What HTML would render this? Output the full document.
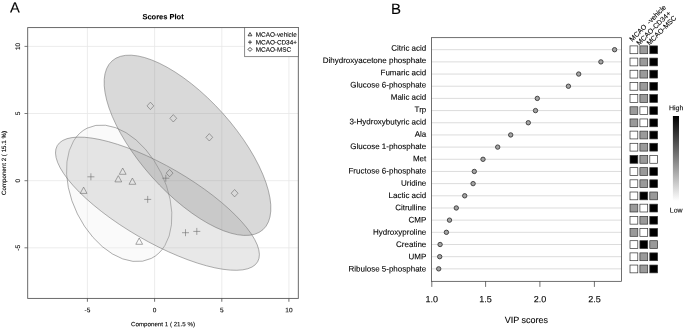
<!DOCTYPE html>
<html><head><meta charset="utf-8"><title>Figure</title>
<style>html,body{margin:0;padding:0;background:#fff;}svg{display:block;filter:grayscale(1);}text{text-rendering:geometricPrecision;stroke:#000;stroke-width:0.1px;font-family:"Liberation Sans",sans-serif;fill:#000;}</style></head><body>
<svg width="685" height="330" viewBox="0 0 685 330">
<rect x="0" y="0" width="685" height="330" fill="#fff"/>
<g id="panelA">
<text transform="translate(10.00 12.40) rotate(0.03)" font-size="14.7" text-anchor="start">A</text>
<text transform="translate(163.00 19.20) rotate(0.03)" font-size="7.5" text-anchor="middle" font-weight="bold">Scores Plot</text>
<clipPath id="cpA"><rect x="27.7" y="27.6" width="270.6" height="270.8"/></clipPath>
<line x1="87.4" y1="27.6" x2="87.4" y2="298.45" stroke="#e7e7e7" stroke-width="0.8"/>
<line x1="154.6" y1="27.6" x2="154.6" y2="298.45" stroke="#e7e7e7" stroke-width="0.8"/>
<line x1="221.8" y1="27.6" x2="221.8" y2="298.45" stroke="#e7e7e7" stroke-width="0.8"/>
<line x1="288.9" y1="27.6" x2="288.9" y2="298.45" stroke="#e7e7e7" stroke-width="0.8"/>
<line x1="27.7" y1="247.8" x2="298.3" y2="247.8" stroke="#e7e7e7" stroke-width="0.8"/>
<line x1="27.7" y1="180.7" x2="298.3" y2="180.7" stroke="#e7e7e7" stroke-width="0.8"/>
<line x1="27.7" y1="113.5" x2="298.3" y2="113.5" stroke="#e7e7e7" stroke-width="0.8"/>
<line x1="27.7" y1="46.4" x2="298.3" y2="46.4" stroke="#e7e7e7" stroke-width="0.8"/>
<g clip-path="url(#cpA)">
<ellipse cx="119.2" cy="193.3" rx="72.6" ry="46.6" transform="rotate(63.75 119.2 193.3)" fill="#eeeeee" fill-opacity="0.3" stroke="#6e6e6e" stroke-width="0.5"/>
<ellipse cx="157.45" cy="203.7" rx="115.8" ry="37.7" transform="rotate(30.1 157.45 203.7)" fill="#b2b2b2" fill-opacity="0.3" stroke="#6e6e6e" stroke-width="0.5"/>
<ellipse cx="187.5" cy="145.3" rx="113.2" ry="47.6" transform="rotate(48.2 187.5 145.3)" fill="#808080" fill-opacity="0.3" stroke="#6e6e6e" stroke-width="0.5"/>
</g>
<path d="M122.7 168.0 L126.1 174.3 L119.3 174.3 Z" stroke="#6c6c6c" stroke-width="0.6" fill="none"/>
<path d="M118.3 175.6 L121.7 181.9 L114.9 181.9 Z" stroke="#6c6c6c" stroke-width="0.6" fill="none"/>
<path d="M132.4 178.0 L135.8 184.3 L129.0 184.3 Z" stroke="#6c6c6c" stroke-width="0.6" fill="none"/>
<path d="M83.6 187.1 L87.0 193.4 L80.2 193.4 Z" stroke="#6c6c6c" stroke-width="0.6" fill="none"/>
<path d="M139.2 238.0 L142.6 244.3 L135.8 244.3 Z" stroke="#6c6c6c" stroke-width="0.6" fill="none"/>
<path d="M87.4 176.8 H94.4 M90.9 173.3 V180.3" stroke="#6c6c6c" stroke-width="0.6" fill="none"/>
<path d="M144.2 199.4 H151.2 M147.7 195.9 V202.9" stroke="#6c6c6c" stroke-width="0.6" fill="none"/>
<path d="M162.3 178.2 H169.3 M165.8 174.7 V181.7" stroke="#6c6c6c" stroke-width="0.6" fill="none"/>
<path d="M182.0 232.7 H189.0 M185.5 229.2 V236.2" stroke="#6c6c6c" stroke-width="0.6" fill="none"/>
<path d="M193.3 231.4 H200.3 M196.8 227.9 V234.9" stroke="#6c6c6c" stroke-width="0.6" fill="none"/>
<path d="M150.4 102.2 L153.8 105.9 L150.4 109.6 L147.0 105.9 Z" stroke="#6c6c6c" stroke-width="0.6" fill="none"/>
<path d="M173.3 114.6 L176.7 118.3 L173.3 122.0 L169.9 118.3 Z" stroke="#6c6c6c" stroke-width="0.6" fill="none"/>
<path d="M209.3 133.6 L212.7 137.3 L209.3 141.0 L205.9 137.3 Z" stroke="#6c6c6c" stroke-width="0.6" fill="none"/>
<path d="M234.6 189.5 L238.0 193.2 L234.6 196.9 L231.2 193.2 Z" stroke="#6c6c6c" stroke-width="0.6" fill="none"/>
<path d="M169.6 169.4 L173.0 173.1 L169.6 176.8 L166.2 173.1 Z" stroke="#6c6c6c" stroke-width="0.6" fill="none"/>
<rect x="27.7" y="27.6" width="270.6" height="270.8" fill="none" stroke="#5a5a5a" stroke-width="0.9"/>
<line x1="87.4" y1="298.45" x2="87.4" y2="301.75" stroke="#4a4a4a" stroke-width="0.8"/>
<text transform="translate(87.45 312.30) rotate(0.03)" font-size="6.5" text-anchor="middle">-5</text>
<line x1="24.5" y1="247.8" x2="27.7" y2="247.8" stroke="#5a5a5a" stroke-width="0.8"/>
<text transform="translate(20.00 247.85) rotate(-90)" font-size="6.5" text-anchor="middle">-5</text>
<line x1="154.6" y1="298.45" x2="154.6" y2="301.75" stroke="#4a4a4a" stroke-width="0.8"/>
<text transform="translate(154.60 312.30) rotate(0.03)" font-size="6.5" text-anchor="middle">0</text>
<line x1="24.5" y1="180.7" x2="27.7" y2="180.7" stroke="#5a5a5a" stroke-width="0.8"/>
<text transform="translate(20.00 180.70) rotate(-90)" font-size="6.5" text-anchor="middle">0</text>
<line x1="221.8" y1="298.45" x2="221.8" y2="301.75" stroke="#4a4a4a" stroke-width="0.8"/>
<text transform="translate(221.75 312.30) rotate(0.03)" font-size="6.5" text-anchor="middle">5</text>
<line x1="24.5" y1="113.5" x2="27.7" y2="113.5" stroke="#5a5a5a" stroke-width="0.8"/>
<text transform="translate(20.00 113.55) rotate(-90)" font-size="6.5" text-anchor="middle">5</text>
<line x1="288.9" y1="298.45" x2="288.9" y2="301.75" stroke="#4a4a4a" stroke-width="0.8"/>
<text transform="translate(288.90 312.30) rotate(0.03)" font-size="6.5" text-anchor="middle">10</text>
<line x1="24.5" y1="46.4" x2="27.7" y2="46.4" stroke="#5a5a5a" stroke-width="0.8"/>
<text transform="translate(20.00 46.40) rotate(-90)" font-size="6.5" text-anchor="middle">10</text>
<text transform="translate(163.00 326.30) rotate(0.03)" font-size="6.2" text-anchor="middle">Component 1 ( 21.5 %)</text>
<text transform="translate(5.80 163.03) rotate(-90)" font-size="6.2" text-anchor="middle">Component 2 ( 15.1 %)</text>
<rect x="244.7" y="27.6" width="53.6" height="29.1" fill="#fff" stroke="#5a5a5a" stroke-width="0.7"/>
<path d="M250.0 32.5 L251.9 35.8 L248.1 35.8 Z" stroke="#1a1a1a" stroke-width="0.8" fill="none"/>
<path d="M248.0 42.2 H252.0 M250.0 40.2 V44.2" stroke="#1a1a1a" stroke-width="0.8" fill="none"/>
<path d="M250.0 47.4 L252.0 49.4 L250.0 51.4 L248.0 49.4 Z" stroke="#1a1a1a" stroke-width="0.8" fill="none"/>
<text transform="translate(255.80 36.80) rotate(0.03)" font-size="6.35" text-anchor="start">MCAO-vehicle</text>
<text transform="translate(255.80 44.50) rotate(0.03)" font-size="6.35" text-anchor="start">MCAO-CD34+</text>
<text transform="translate(255.80 51.70) rotate(0.03)" font-size="6.35" text-anchor="start">MCAO-MSC</text>
</g>
<g id="panelB">
<text transform="translate(391.00 14.10) rotate(0.03)" font-size="15" text-anchor="start">B</text>
<line x1="431.6" y1="49.70" x2="621.4" y2="49.70" stroke="#d8d8d8" stroke-width="0.9"/>
<circle cx="614.6" cy="49.70" r="2.2" fill="#a4a4a4" stroke="#303030" stroke-width="0.85"/>
<text transform="translate(426.30 50.80) rotate(0.03)" font-size="8" text-anchor="end">Citric acid</text>
<rect x="630.0" y="45.90" width="7.8" height="7.8" fill="#ffffff" stroke="#333" stroke-width="0.7"/>
<rect x="639.9" y="45.90" width="7.8" height="7.8" fill="#9a9a9a" stroke="#333" stroke-width="0.7"/>
<rect x="649.8" y="45.90" width="7.8" height="7.8" fill="#000000" stroke="#333" stroke-width="0.7"/>
<line x1="431.6" y1="61.88" x2="621.4" y2="61.88" stroke="#d8d8d8" stroke-width="0.9"/>
<circle cx="600.9" cy="61.88" r="2.2" fill="#a4a4a4" stroke="#303030" stroke-width="0.85"/>
<text transform="translate(426.30 63.07) rotate(0.03)" font-size="8" text-anchor="end">Dihydroxyacetone phosphate</text>
<rect x="630.0" y="58.08" width="7.8" height="7.8" fill="#ffffff" stroke="#333" stroke-width="0.7"/>
<rect x="639.9" y="58.08" width="7.8" height="7.8" fill="#9a9a9a" stroke="#333" stroke-width="0.7"/>
<rect x="649.8" y="58.08" width="7.8" height="7.8" fill="#000000" stroke="#333" stroke-width="0.7"/>
<line x1="431.6" y1="74.05" x2="621.4" y2="74.05" stroke="#d8d8d8" stroke-width="0.9"/>
<circle cx="578.7" cy="74.05" r="2.2" fill="#a4a4a4" stroke="#303030" stroke-width="0.85"/>
<text transform="translate(426.30 75.33) rotate(0.03)" font-size="8" text-anchor="end">Fumaric acid</text>
<rect x="630.0" y="70.25" width="7.8" height="7.8" fill="#ffffff" stroke="#333" stroke-width="0.7"/>
<rect x="639.9" y="70.25" width="7.8" height="7.8" fill="#9a9a9a" stroke="#333" stroke-width="0.7"/>
<rect x="649.8" y="70.25" width="7.8" height="7.8" fill="#000000" stroke="#333" stroke-width="0.7"/>
<line x1="431.6" y1="86.23" x2="621.4" y2="86.23" stroke="#d8d8d8" stroke-width="0.9"/>
<circle cx="568.4" cy="86.23" r="2.2" fill="#a4a4a4" stroke="#303030" stroke-width="0.85"/>
<text transform="translate(426.30 87.60) rotate(0.03)" font-size="8" text-anchor="end">Glucose 6-phosphate</text>
<rect x="630.0" y="82.43" width="7.8" height="7.8" fill="#ffffff" stroke="#333" stroke-width="0.7"/>
<rect x="639.9" y="82.43" width="7.8" height="7.8" fill="#9a9a9a" stroke="#333" stroke-width="0.7"/>
<rect x="649.8" y="82.43" width="7.8" height="7.8" fill="#000000" stroke="#333" stroke-width="0.7"/>
<line x1="431.6" y1="98.40" x2="621.4" y2="98.40" stroke="#d8d8d8" stroke-width="0.9"/>
<circle cx="537.3" cy="98.40" r="2.2" fill="#a4a4a4" stroke="#303030" stroke-width="0.85"/>
<text transform="translate(426.30 99.87) rotate(0.03)" font-size="8" text-anchor="end">Malic acid</text>
<rect x="630.0" y="94.60" width="7.8" height="7.8" fill="#ffffff" stroke="#333" stroke-width="0.7"/>
<rect x="639.9" y="94.60" width="7.8" height="7.8" fill="#9a9a9a" stroke="#333" stroke-width="0.7"/>
<rect x="649.8" y="94.60" width="7.8" height="7.8" fill="#000000" stroke="#333" stroke-width="0.7"/>
<line x1="431.6" y1="110.58" x2="621.4" y2="110.58" stroke="#d8d8d8" stroke-width="0.9"/>
<circle cx="535.5" cy="110.58" r="2.2" fill="#a4a4a4" stroke="#303030" stroke-width="0.85"/>
<text transform="translate(426.30 112.13) rotate(0.03)" font-size="8" text-anchor="end">Trp</text>
<rect x="630.0" y="106.78" width="7.8" height="7.8" fill="#9a9a9a" stroke="#333" stroke-width="0.7"/>
<rect x="639.9" y="106.78" width="7.8" height="7.8" fill="#ffffff" stroke="#333" stroke-width="0.7"/>
<rect x="649.8" y="106.78" width="7.8" height="7.8" fill="#000000" stroke="#333" stroke-width="0.7"/>
<line x1="431.6" y1="122.75" x2="621.4" y2="122.75" stroke="#d8d8d8" stroke-width="0.9"/>
<circle cx="528.3" cy="122.75" r="2.2" fill="#a4a4a4" stroke="#303030" stroke-width="0.85"/>
<text transform="translate(426.30 124.40) rotate(0.03)" font-size="8" text-anchor="end">3-Hydroxybutyric acid</text>
<rect x="630.0" y="118.95" width="7.8" height="7.8" fill="#9a9a9a" stroke="#333" stroke-width="0.7"/>
<rect x="639.9" y="118.95" width="7.8" height="7.8" fill="#ffffff" stroke="#333" stroke-width="0.7"/>
<rect x="649.8" y="118.95" width="7.8" height="7.8" fill="#000000" stroke="#333" stroke-width="0.7"/>
<line x1="431.6" y1="134.93" x2="621.4" y2="134.93" stroke="#d8d8d8" stroke-width="0.9"/>
<circle cx="510.7" cy="134.93" r="2.2" fill="#a4a4a4" stroke="#303030" stroke-width="0.85"/>
<text transform="translate(426.30 136.67) rotate(0.03)" font-size="8" text-anchor="end">Ala</text>
<rect x="630.0" y="131.12" width="7.8" height="7.8" fill="#ffffff" stroke="#333" stroke-width="0.7"/>
<rect x="639.9" y="131.12" width="7.8" height="7.8" fill="#9a9a9a" stroke="#333" stroke-width="0.7"/>
<rect x="649.8" y="131.12" width="7.8" height="7.8" fill="#000000" stroke="#333" stroke-width="0.7"/>
<line x1="431.6" y1="147.10" x2="621.4" y2="147.10" stroke="#d8d8d8" stroke-width="0.9"/>
<circle cx="497.7" cy="147.10" r="2.2" fill="#a4a4a4" stroke="#303030" stroke-width="0.85"/>
<text transform="translate(426.30 148.94) rotate(0.03)" font-size="8" text-anchor="end">Glucose 1-phosphate</text>
<rect x="630.0" y="143.30" width="7.8" height="7.8" fill="#ffffff" stroke="#333" stroke-width="0.7"/>
<rect x="639.9" y="143.30" width="7.8" height="7.8" fill="#9a9a9a" stroke="#333" stroke-width="0.7"/>
<rect x="649.8" y="143.30" width="7.8" height="7.8" fill="#000000" stroke="#333" stroke-width="0.7"/>
<line x1="431.6" y1="159.28" x2="621.4" y2="159.28" stroke="#d8d8d8" stroke-width="0.9"/>
<circle cx="483.0" cy="159.28" r="2.2" fill="#a4a4a4" stroke="#303030" stroke-width="0.85"/>
<text transform="translate(426.30 161.20) rotate(0.03)" font-size="8" text-anchor="end">Met</text>
<rect x="630.0" y="155.47" width="7.8" height="7.8" fill="#000000" stroke="#333" stroke-width="0.7"/>
<rect x="639.9" y="155.47" width="7.8" height="7.8" fill="#9a9a9a" stroke="#333" stroke-width="0.7"/>
<rect x="649.8" y="155.47" width="7.8" height="7.8" fill="#ffffff" stroke="#333" stroke-width="0.7"/>
<line x1="431.6" y1="171.45" x2="621.4" y2="171.45" stroke="#d8d8d8" stroke-width="0.9"/>
<circle cx="474.3" cy="171.45" r="2.2" fill="#a4a4a4" stroke="#303030" stroke-width="0.85"/>
<text transform="translate(426.30 173.47) rotate(0.03)" font-size="8" text-anchor="end">Fructose 6-phosphate</text>
<rect x="630.0" y="167.65" width="7.8" height="7.8" fill="#ffffff" stroke="#333" stroke-width="0.7"/>
<rect x="639.9" y="167.65" width="7.8" height="7.8" fill="#9a9a9a" stroke="#333" stroke-width="0.7"/>
<rect x="649.8" y="167.65" width="7.8" height="7.8" fill="#000000" stroke="#333" stroke-width="0.7"/>
<line x1="431.6" y1="183.62" x2="621.4" y2="183.62" stroke="#d8d8d8" stroke-width="0.9"/>
<circle cx="473.1" cy="183.62" r="2.2" fill="#a4a4a4" stroke="#303030" stroke-width="0.85"/>
<text transform="translate(426.30 185.74) rotate(0.03)" font-size="8" text-anchor="end">Uridine</text>
<rect x="630.0" y="179.82" width="7.8" height="7.8" fill="#ffffff" stroke="#333" stroke-width="0.7"/>
<rect x="639.9" y="179.82" width="7.8" height="7.8" fill="#9a9a9a" stroke="#333" stroke-width="0.7"/>
<rect x="649.8" y="179.82" width="7.8" height="7.8" fill="#000000" stroke="#333" stroke-width="0.7"/>
<line x1="431.6" y1="195.80" x2="621.4" y2="195.80" stroke="#d8d8d8" stroke-width="0.9"/>
<circle cx="464.7" cy="195.80" r="2.2" fill="#a4a4a4" stroke="#303030" stroke-width="0.85"/>
<text transform="translate(426.30 198.00) rotate(0.03)" font-size="8" text-anchor="end">Lactic acid</text>
<rect x="630.0" y="192.00" width="7.8" height="7.8" fill="#ffffff" stroke="#333" stroke-width="0.7"/>
<rect x="639.9" y="192.00" width="7.8" height="7.8" fill="#000000" stroke="#333" stroke-width="0.7"/>
<rect x="649.8" y="192.00" width="7.8" height="7.8" fill="#9a9a9a" stroke="#333" stroke-width="0.7"/>
<line x1="431.6" y1="207.98" x2="621.4" y2="207.98" stroke="#d8d8d8" stroke-width="0.9"/>
<circle cx="456.3" cy="207.98" r="2.2" fill="#a4a4a4" stroke="#303030" stroke-width="0.85"/>
<text transform="translate(426.30 210.27) rotate(0.03)" font-size="8" text-anchor="end">Citrulline</text>
<rect x="630.0" y="204.18" width="7.8" height="7.8" fill="#9a9a9a" stroke="#333" stroke-width="0.7"/>
<rect x="639.9" y="204.18" width="7.8" height="7.8" fill="#ffffff" stroke="#333" stroke-width="0.7"/>
<rect x="649.8" y="204.18" width="7.8" height="7.8" fill="#000000" stroke="#333" stroke-width="0.7"/>
<line x1="431.6" y1="220.15" x2="621.4" y2="220.15" stroke="#d8d8d8" stroke-width="0.9"/>
<circle cx="449.5" cy="220.15" r="2.2" fill="#a4a4a4" stroke="#303030" stroke-width="0.85"/>
<text transform="translate(426.30 222.54) rotate(0.03)" font-size="8" text-anchor="end">CMP</text>
<rect x="630.0" y="216.35" width="7.8" height="7.8" fill="#ffffff" stroke="#333" stroke-width="0.7"/>
<rect x="639.9" y="216.35" width="7.8" height="7.8" fill="#9a9a9a" stroke="#333" stroke-width="0.7"/>
<rect x="649.8" y="216.35" width="7.8" height="7.8" fill="#000000" stroke="#333" stroke-width="0.7"/>
<line x1="431.6" y1="232.32" x2="621.4" y2="232.32" stroke="#d8d8d8" stroke-width="0.9"/>
<circle cx="446.4" cy="232.32" r="2.2" fill="#a4a4a4" stroke="#303030" stroke-width="0.85"/>
<text transform="translate(426.30 234.81) rotate(0.03)" font-size="8" text-anchor="end">Hydroxyproline</text>
<rect x="630.0" y="228.52" width="7.8" height="7.8" fill="#9a9a9a" stroke="#333" stroke-width="0.7"/>
<rect x="639.9" y="228.52" width="7.8" height="7.8" fill="#ffffff" stroke="#333" stroke-width="0.7"/>
<rect x="649.8" y="228.52" width="7.8" height="7.8" fill="#000000" stroke="#333" stroke-width="0.7"/>
<line x1="431.6" y1="244.50" x2="621.4" y2="244.50" stroke="#d8d8d8" stroke-width="0.9"/>
<circle cx="440.1" cy="244.50" r="2.2" fill="#a4a4a4" stroke="#303030" stroke-width="0.85"/>
<text transform="translate(426.30 247.07) rotate(0.03)" font-size="8" text-anchor="end">Creatine</text>
<rect x="630.0" y="240.70" width="7.8" height="7.8" fill="#ffffff" stroke="#333" stroke-width="0.7"/>
<rect x="639.9" y="240.70" width="7.8" height="7.8" fill="#000000" stroke="#333" stroke-width="0.7"/>
<rect x="649.8" y="240.70" width="7.8" height="7.8" fill="#9a9a9a" stroke="#333" stroke-width="0.7"/>
<line x1="431.6" y1="256.68" x2="621.4" y2="256.68" stroke="#d8d8d8" stroke-width="0.9"/>
<circle cx="439.7" cy="256.68" r="2.2" fill="#a4a4a4" stroke="#303030" stroke-width="0.85"/>
<text transform="translate(426.30 259.34) rotate(0.03)" font-size="8" text-anchor="end">UMP</text>
<rect x="630.0" y="252.88" width="7.8" height="7.8" fill="#ffffff" stroke="#333" stroke-width="0.7"/>
<rect x="639.9" y="252.88" width="7.8" height="7.8" fill="#9a9a9a" stroke="#333" stroke-width="0.7"/>
<rect x="649.8" y="252.88" width="7.8" height="7.8" fill="#000000" stroke="#333" stroke-width="0.7"/>
<line x1="431.6" y1="268.85" x2="621.4" y2="268.85" stroke="#d8d8d8" stroke-width="0.9"/>
<circle cx="438.7" cy="268.85" r="2.2" fill="#a4a4a4" stroke="#303030" stroke-width="0.85"/>
<text transform="translate(426.30 271.61) rotate(0.03)" font-size="8" text-anchor="end">Ribulose 5-phosphate</text>
<rect x="630.0" y="265.05" width="7.8" height="7.8" fill="#ffffff" stroke="#333" stroke-width="0.7"/>
<rect x="639.9" y="265.05" width="7.8" height="7.8" fill="#9a9a9a" stroke="#333" stroke-width="0.7"/>
<rect x="649.8" y="265.05" width="7.8" height="7.8" fill="#000000" stroke="#333" stroke-width="0.7"/>
<rect x="431.6" y="37.7" width="189.8" height="243.6" fill="none" stroke="#333" stroke-width="0.7"/>
<line x1="431.8" y1="281.3" x2="431.8" y2="286.9" stroke="#333" stroke-width="0.7"/>
<text transform="translate(431.80 302.20) rotate(0.03)" font-size="9" text-anchor="middle">1.0</text>
<line x1="485.6" y1="281.3" x2="485.6" y2="286.9" stroke="#333" stroke-width="0.7"/>
<text transform="translate(485.60 302.20) rotate(0.03)" font-size="9" text-anchor="middle">1.5</text>
<line x1="539.9" y1="281.3" x2="539.9" y2="286.9" stroke="#333" stroke-width="0.7"/>
<text transform="translate(539.90 302.20) rotate(0.03)" font-size="9" text-anchor="middle">2.0</text>
<line x1="594.4" y1="281.3" x2="594.4" y2="286.9" stroke="#333" stroke-width="0.7"/>
<text transform="translate(594.40 302.20) rotate(0.03)" font-size="9" text-anchor="middle">2.5</text>
<text transform="translate(526.40 322.90) rotate(0.03)" font-size="9" text-anchor="middle">VIP scores</text>
<text transform="translate(632.30 41.90) rotate(-45)" font-size="7" text-anchor="start">MCAO <tspan dx="1.4">-vehicle</tspan></text>
<text transform="translate(639.30 45.80) rotate(-45)" font-size="7" text-anchor="start">MCAO-CD34+</text>
<text transform="translate(649.40 45.80) rotate(-45)" font-size="7" text-anchor="start">MCAO-MSC</text>
<defs><linearGradient id="cb" x1="0" y1="0" x2="0" y2="1"><stop offset="0" stop-color="#000"/><stop offset="1" stop-color="#fff"/></linearGradient></defs>
<rect x="672.9" y="116" width="6.1" height="85" fill="url(#cb)"/>
<text transform="translate(669.00 110.30) rotate(0.03)" font-size="7" text-anchor="start">High</text>
<text transform="translate(669.80 212.50) rotate(0.03)" font-size="7" text-anchor="start">Low</text>
</g>
</svg>
</body></html>
